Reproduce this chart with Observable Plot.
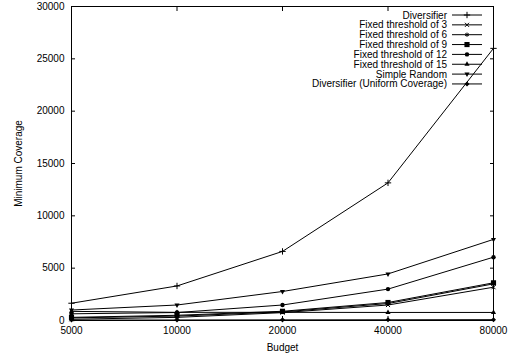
<!DOCTYPE html>
<html>
<head>
<meta charset="utf-8">
<script src="https://cdn.jsdelivr.net/npm/d3@7"></script>
<script src="https://cdn.jsdelivr.net/npm/@observablehq/plot@0.6"></script>
<style>
  html, body { margin: 0; padding: 0; background: #fff; }
  svg { display: block; }
</style>
</head>
<body>
<div id="chart"></div>
<script>
const budgets = [5000, 10000, 20000, 40000, 80000];
const budgetLabels = ["5000", "10000", "20000", "40000", "80000"];
const yTicks = [0, 5000, 10000, 15000, 20000, 25000, 30000];
const seriesNames = [
  "Diversifier",
  "Fixed threshold of 3",
  "Fixed threshold of 6",
  "Fixed threshold of 9",
  "Fixed threshold of 12",
  "Fixed threshold of 15",
  "Simple Random",
  "Diversifier (Uniform Coverage)"
];
const diversifier = [1650, 3300, 6600, 13150, 26000];
const fixed3 = [120, 300, 750, 1480, 3180];
const fixed6 = [250, 420, 820, 1620, 3500];
const fixed9 = [300, 500, 880, 1720, 3600];
const fixed12 = [640, 760, 1480, 3000, 6050];
const fixed15 = [870, 780, 780, 770, 770];
const simpleRandom = [1000, 1480, 2770, 4450, 7750];
const uniform = [40, 50, 60, 70, 80];

const seriesValues = [diversifier, fixed3, fixed6, fixed9, fixed12, fixed15, simpleRandom, uniform];
// symbol styles: [symbol, filled, rotate, r]
const symbols = [
  ["plus", false, 0, 2.2],
  ["times", false, 0, 2.0],
  ["asterisk", false, 0, 2.0],
  ["square", true, 0, 2.9],
  ["circle", true, 0, 2.2],
  ["triangle", true, 0, 1.9],
  ["triangle", true, 180, 1.9],
  ["square", true, 45, 2.0]
];

const table = [];
seriesNames.forEach((s, i) => budgets.forEach((b, j) => table.push({series: s, idx: i, budget: b, value: seriesValues[i][j]})));
const xLabelData = budgets.map((b, i) => ({budget: b, label: budgetLabels[i]}));

const font = "'Liberation Sans', Arial, Helvetica, sans-serif";

const dotMarks = seriesNames.map((s, i) => {
  const [sym, filled, rot, r] = symbols[i];
  return Plot.dot(table.filter(d => d.idx === i), {
    x: "budget", y: "value", symbol: sym, r,
    rotate: rot,
    fill: filled ? "#000" : "none",
    stroke: filled ? "none" : "#000",
    strokeWidth: 1
  });
});

const chart = Plot.plot({
  width: 519,
  height: 358,
  marginLeft: 71,
  marginRight: 26,
  marginTop: 6,
  marginBottom: 38,
  style: {fontFamily: font, fontSize: "10px", color: "#000", background: "#fff"},
  x: {type: "log", domain: [5000, 80000]},
  y: {domain: [0, 30000]},
  marks: [
    Plot.axisX({ticks: budgets, tickFormat: () => "", tickSize: -4, label: "Budget", labelAnchor: "center", labelArrow: "none", labelOffset: 30, fontSize: 10}),
    Plot.text(xLabelData, {x: "budget", text: "label", frameAnchor: "bottom", dy: 10, lineAnchor: "middle", fontSize: 10, fill: "#000"}),
    Plot.axisX({anchor: "top", ticks: budgets, tickSize: -4, tickFormat: () => "", label: null}),
    Plot.axisY({ticks: yTicks, tickFormat: d => String(d), tickSize: -4, tickPadding: 11, label: "Minimum Coverage", labelAnchor: "center", labelArrow: "none", labelOffset: 57, fontSize: 10}),
    Plot.axisY({anchor: "right", ticks: yTicks, tickSize: -4, tickFormat: () => "", label: null}),
    Plot.line(table, {x: "budget", y: "value", z: "series", stroke: "#000", strokeWidth: 1}),
    ...dotMarks,
    Plot.frame({stroke: "#000", strokeWidth: 1})
  ]
});

document.getElementById("chart").appendChild(chart);

// Legend (top-right, inside the plot area)
const svg = d3.select(chart);
const lg = svg.append("g").attr("font-family", font).attr("font-size", 10);
const textRight = 447, lineX1 = 452, lineX2 = 482, markX = 467, row0 = 15, rowH = 9.85;
const symMap = {plus: d3.symbolPlus, times: d3.symbolTimes, asterisk: d3.symbolAsterisk, square: d3.symbolSquare, circle: d3.symbolCircle, triangle: d3.symbolTriangle};
seriesNames.forEach((s, i) => {
  const y = row0 + i * rowH;
  lg.append("text").attr("x", textRight).attr("y", y).attr("dy", "0.35em").attr("text-anchor", "end").attr("fill", "#000").text(s);
  lg.append("line").attr("x1", lineX1).attr("x2", lineX2).attr("y1", y).attr("y2", y).attr("stroke", "#000").attr("stroke-width", 1);
  const [sym, filled, rot, r] = symbols[i];
  const path = d3.symbol(symMap[sym], Math.PI * r * r)();
  lg.append("path").attr("d", path)
    .attr("transform", `translate(${markX},${y}) rotate(${rot})`)
    .attr("fill", filled ? "#000" : "none")
    .attr("stroke", filled ? "none" : "#000")
    .attr("stroke-width", 1);
});
</script>
</body>
</html>
